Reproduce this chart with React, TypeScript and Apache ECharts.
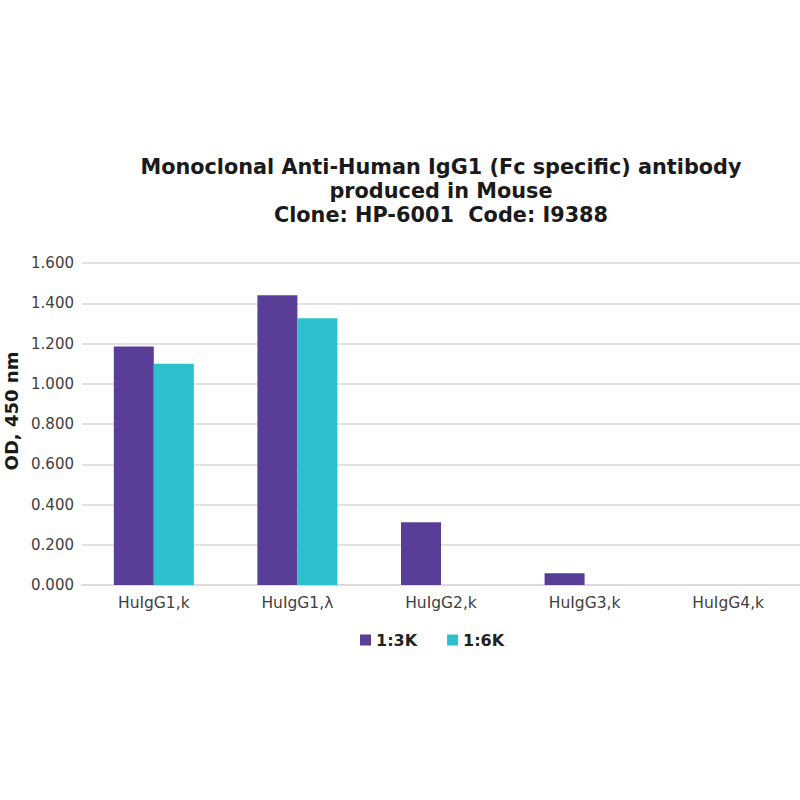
import React, { useEffect, useRef } from "react";
import * as echarts from "echarts";

const categories = ["HuIgG1,k", "HuIgG1,\u03bb", "HuIgG2,k", "HuIgG3,k", "HuIgG4,k"];
const series3K = [1.185, 1.44, 0.312, 0.058, 0];
const series6K = [1.1, 1.325, 0, 0, 0];
const seriesNames = ["1:3K", "1:6K"];
const yTicks = { min: 0, max: 1.6, interval: 0.2 };

export default function App() {
  const ref = useRef<HTMLDivElement>(null);
  useEffect(() => {
    document.body.style.margin = "0";
    const chart = echarts.init(ref.current!, null, { renderer: "svg" });
    const font = "DejaVu Sans";
    chart.setOption({
      animation: false,
      backgroundColor: "#ffffff",
      title: {
        text: "Monoclonal Anti-Human IgG1 (Fc specific) antibody\nproduced in Mouse\nClone: HP-6001  Code: I9388",
        left: 436,
        top: 150,
        textAlign: "center",
        textStyle: {
          fontFamily: font,
          fontSize: 20.8,
          fontWeight: "bold",
          color: "#1a1a1a",
          lineHeight: 24,
        },
      },
      legend: {
        data: seriesNames,
        left: 355,
        top: 627,
        itemWidth: 11,
        itemHeight: 11,
        itemGap: 30,
        icon: "rect",
        textStyle: { fontFamily: font, fontSize: 16, fontWeight: "bold", color: "#222" },
      },
      grid: { left: 82, right: 0, top: 263, bottom: 215, containLabel: false, outerBoundsMode: "none" },
      xAxis: {
        type: "category",
        data: categories,
        axisLine: { show: true, lineStyle: { color: "#d9d9d9", width: 1.5 } },
        axisTick: { show: false },
        axisLabel: { fontFamily: font, fontSize: 15.5, color: "#404040", margin: 10 },
      },
      yAxis: {
        type: "value",
        min: yTicks.min,
        max: yTicks.max,
        interval: yTicks.interval,
        name: "OD, 450 nm",
        nameLocation: "middle",
        nameGap: 62,
        nameTextStyle: { fontFamily: font, fontSize: 18, fontWeight: "bold", color: "#1a1a1a", padding: [0, 0, 0, 26] },
        axisLine: { show: false },
        axisTick: { show: false },
        splitLine: { lineStyle: { color: "#d9d9d9", width: 1.5 } },
        axisLabel: {
          fontFamily: font,
          fontSize: 15,
          color: "#404040",
          margin: 8,
          formatter: (v: number) => v.toFixed(3),
        },
      },
      series: [
        {
          name: seriesNames[0],
          type: "bar",
          data: series3K,
          barWidth: 40,
          barGap: "0%",
          itemStyle: { color: "#593e98" },
        },
        {
          name: seriesNames[1],
          type: "bar",
          data: series6K,
          barWidth: 40,
          barGap: "0%",
          itemStyle: { color: "#2dbfcb" },
        },
      ],
    });
    return () => chart.dispose();
  }, []);
  return <div ref={ref} style={{ position: "fixed", left: 0, top: 0, width: 800, height: 800 }} />;
}
